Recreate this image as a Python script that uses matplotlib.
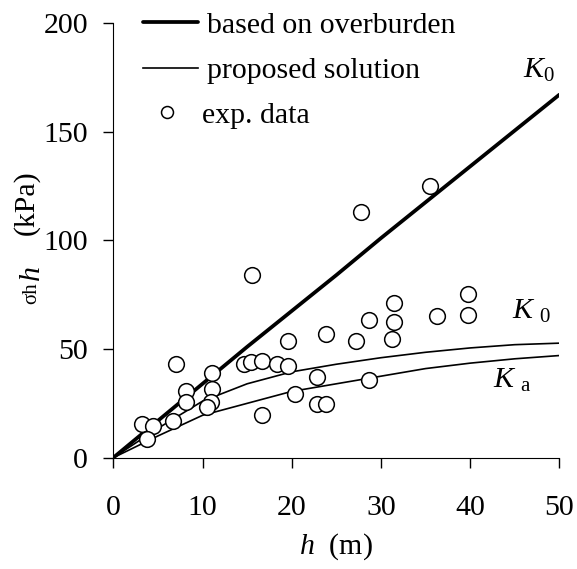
import matplotlib
matplotlib.use("Agg")
import matplotlib.pyplot as plt
from matplotlib.lines import Line2D

plt.rcParams['font.family'] = ['Liberation Serif', 'DejaVu Serif']
plt.rcParams['mathtext.fontset'] = 'custom'
plt.rcParams['mathtext.rm'] = 'Liberation Serif'
plt.rcParams['mathtext.it'] = 'Liberation Serif:italic'

# line curves
h_line = [0, 5, 10, 15, 20, 25, 30, 35, 40, 45, 50]
overburden = [0, 17, 34, 51, 67.5, 84, 101, 117.5, 134, 150.5, 167]
k0_prop = [0, 13.5, 26, 34, 39.5, 43, 46, 48.5, 50.5, 52, 52.7]
ka_prop = [0, 10, 19.5, 25, 30.5, 34, 37.5, 41, 43.5, 45.5, 47]

# experimental points
h_exp = [15.5, 7.0, 3.2, 4.4, 3.8, 6.7, 8.1, 8.1, 11.1, 11.1, 10.9, 10.5,
         14.7, 15.4, 16.7, 18.4, 19.6, 19.6, 16.7, 20.4, 23.9, 22.8, 22.8, 23.9,
         35.5, 27.8, 27.2, 28.7, 31.5, 31.5, 31.3, 36.3, 39.8, 39.8, 28.7]
s_exp = [84, 43, 15.5, 14.6, 8.8, 16.7, 30.7, 25.6, 39, 31.4, 25.4, 23.4,
         43, 44, 44.7, 43.2, 42, 53.7, 19.6, 29.2, 56.8, 37.1, 24.7, 24.7,
         125, 113, 53.7, 63.3, 71.2, 62.6, 54.6, 65.3, 75.2, 65.8, 35.6]

fs = 21.5
W, H = 577, 569
fig = plt.figure(figsize=(W / 100, H / 100), dpi=100)
ax = fig.add_axes([113.3 / W, 1 - 457.7 / H, (559.3 - 113.3) / W, (457.7 - 23) / H])

l1, = ax.plot(h_line, overburden, color='black', lw=2.7, solid_capstyle='round')
l2, = ax.plot(h_line, k0_prop, color='black', lw=1.2)
ax.plot(h_line, ka_prop, color='black', lw=1.2)
ax.plot(h_exp, s_exp, 'o', ms=11.3, mfc='white', mec='black', mew=1.1,
        clip_on=False, zorder=3)

ax.set_xlim(0, 50)
ax.set_ylim(0, 200)
ax.set_xticks([0, 10, 20, 30, 40, 50])
ax.set_yticks([0, 50, 100, 150, 200])
ax.spines['top'].set_visible(False)
ax.spines['right'].set_visible(False)
ax.tick_params(axis='both', direction='out', length=7.2, width=1, labelsize=fs)
ax.tick_params(axis='x', pad=20)
ax.tick_params(axis='y', pad=11)

ax.set_xlabel(r'$h$  (m)', fontsize=fs, labelpad=7)

# y label pieces (rotated, bottom to top)
fig.text(32 / W, 1 - 304 / H, 'σh', fontsize=15, rotation=90, ha='center', va='bottom')
fig.text(33 / W, 1 - 282 / H, r'$h$', fontsize=fs, rotation=90, ha='center', va='bottom')
fig.text(26 / W, 1 - 235 / H, '(kPa)', fontsize=fs, rotation=90, ha='center', va='bottom')

ax.text(45.9, 178, r'$K_{\mathregular{0}}$', fontsize=fs, ha='left', va='center')
ax.text(44.7, 67.5, r'$K$ $_{\mathregular{0}}$', fontsize=fs, ha='left', va='center')
ax.text(42.6, 35.7, r'$K$ $_{\mathregular{a}}$', fontsize=fs, ha='left', va='center')

leg1 = ax.legend([l1, l2], ['based on overburden', 'proposed solution'],
                 loc='upper left', bbox_to_anchor=(143 / W, 1 - 12 / H),
                 bbox_transform=fig.transFigure, frameon=False, fontsize=fs,
                 handlelength=1.84, handletextpad=0.3, borderpad=0,
                 borderaxespad=0, labelspacing=0.62)
ax.add_artist(leg1)
pt = Line2D([], [], ls='none', marker='o', ms=8.6, mfc='white', mec='black', mew=1.1)
ax.legend([pt], ['exp. data'], loc='upper left',
          bbox_to_anchor=(155 / W, 1 - 102 / H),
          bbox_transform=fig.transFigure, frameon=False, fontsize=fs,
          handlelength=0.8, handletextpad=0.77, borderpad=0, borderaxespad=0)

fig.savefig('out.png', dpi=100)
